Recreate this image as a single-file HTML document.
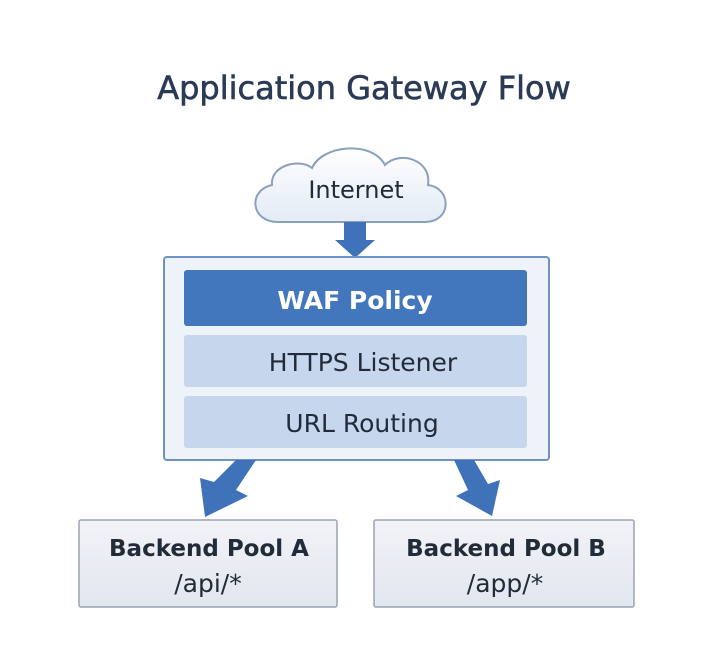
<!DOCTYPE html>
<html><head><style>
body{margin:0;width:720px;height:656px;background:#fff;font-family:"DejaVu Sans","Liberation Sans",sans-serif;overflow:hidden}
</style></head><body>
<svg width="720" height="656" viewBox="0 0 720 656" xmlns="http://www.w3.org/2000/svg">
<defs>
<linearGradient id="cl" x1="0" y1="0" x2="0" y2="1"><stop offset="0" stop-color="#ffffff"/><stop offset="1" stop-color="#e3ebf6"/></linearGradient>
<linearGradient id="bx" x1="0" y1="0" x2="0" y2="1"><stop offset="0" stop-color="#f1f3f7"/><stop offset="1" stop-color="#e2e6ee"/></linearGradient>
</defs>
<text x="364" y="99" text-anchor="middle" font-size="32" fill="#2b3a55" stroke="#2b3a55" stroke-width="0.6">Application Gateway Flow</text>
<path d="M278 222 C250 222 248 190 272 185 C270 165 300 158 312 168 C322 145 372 140 385 165 C400 150 432 160 428 185 C452 188 452 222 425 222 Z" fill="url(#cl)" stroke="#8aa0bd" stroke-width="2"/>
<text x="356" y="198" text-anchor="middle" font-size="24" fill="#222b3a">Internet</text>
<path d="M344 222 H366 V240 H375 L355 258 L335 240 H344 Z" fill="#3f72b8"/>
<rect x="164" y="257" width="385" height="203" rx="3" fill="#eef3fa" stroke="#6f91c4" stroke-width="2"/>
<rect x="184" y="270" width="343" height="56" rx="3" fill="#4276bd"/>
<text x="355" y="309" text-anchor="middle" font-size="25" font-weight="bold" fill="#fff">WAF Policy</text>
<rect x="184" y="335" width="343" height="52" rx="3" fill="#c6d6ec"/>
<text x="363" y="371" text-anchor="middle" font-size="25" fill="#222b3a">HTTPS Listener</text>
<rect x="184" y="396" width="343" height="52" rx="3" fill="#c6d6ec"/>
<text x="362" y="432" text-anchor="middle" font-size="25" fill="#222b3a">URL Routing</text>
<path d="M236 460 L256 460 L236 490 L248 496 L205 517 L200 478 L214 482 Z" fill="#3f72b8"/>
<path d="M454 460 L474 460 L488 484 L500 480 L492 516 L456 496 L468 490 Z" fill="#3f72b8"/>
<rect x="79" y="520" width="258" height="87" rx="2" fill="url(#bx)" stroke="#9aa4b4" stroke-width="1.5"/>
<text x="209" y="556" text-anchor="middle" font-size="23" font-weight="bold" fill="#222b3a">Backend Pool A</text>
<text x="208" y="592" text-anchor="middle" font-size="25" fill="#222b3a">/api/*</text>
<rect x="374" y="520" width="260" height="87" rx="2" fill="url(#bx)" stroke="#9aa4b4" stroke-width="1.5"/>
<text x="506" y="556" text-anchor="middle" font-size="23" font-weight="bold" fill="#222b3a">Backend Pool B</text>
<text x="505" y="592" text-anchor="middle" font-size="25" fill="#222b3a">/app/*</text>
</svg>
</body></html>
